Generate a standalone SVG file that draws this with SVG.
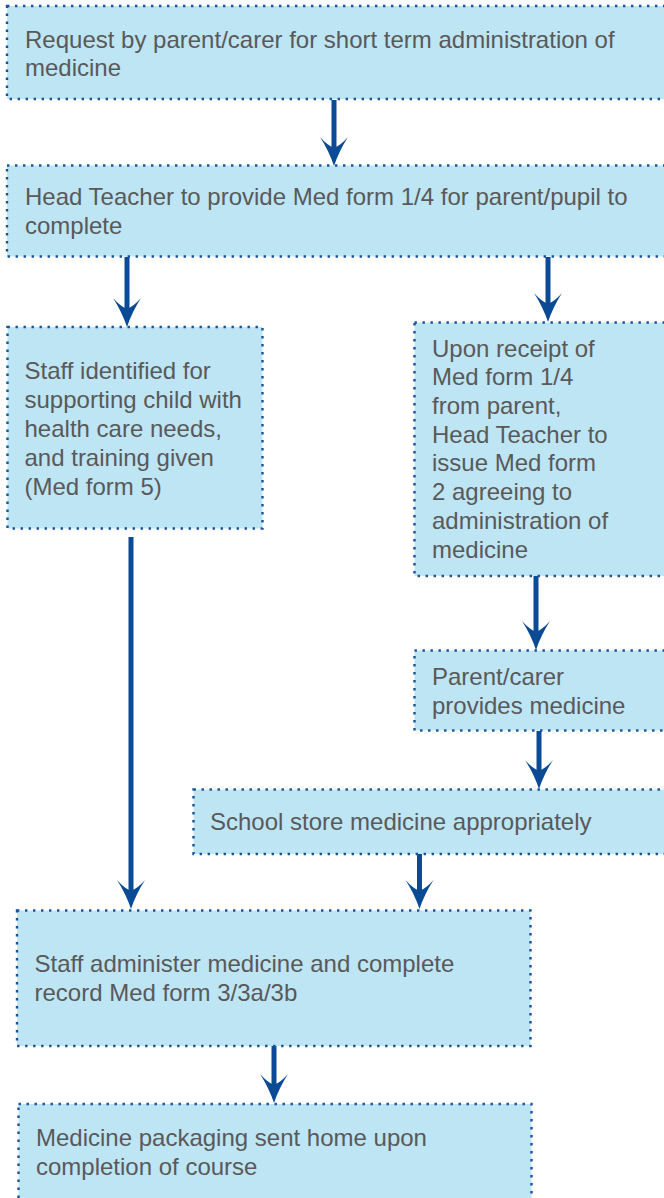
<svg xmlns="http://www.w3.org/2000/svg" width="664" height="1198" viewBox="0 0 664 1198">
  <style>
    .box { fill: #BEE5F4; stroke: #16539F; stroke-width: 2.4; stroke-dasharray: 2.4 5.6; }
    .t { font-family: "Liberation Sans", Arial, sans-serif; font-size: 24px; fill: #595959; }
    .arr { stroke: #0B4A94; stroke-width: 5; fill: none; marker-end: url(#ah); }
  </style>
  <defs>
    <marker id="ah" markerUnits="userSpaceOnUse" markerWidth="30" markerHeight="30" viewBox="0 0 30 30" refX="11" refY="15" orient="auto">
      <path d="M29,15 Q14,10 0,1 Q8,8 11,15 Q8,22 0,29 Q14,20 29,15 Z" fill="#0B4A94"/>
    </marker>
  </defs>
  <rect width="664" height="1198" fill="#FFFFFF"/>

  <g id="connectors">
    <line class="arr" x1="334" y1="100" x2="334" y2="148"/>
    <line class="arr" x1="127" y1="257" x2="127" y2="309"/>
    <line class="arr" x1="548" y1="257" x2="548" y2="304"/>
    <line class="arr" x1="536" y1="576" x2="536" y2="632"/>
    <line class="arr" x1="539" y1="731" x2="539" y2="771"/>
    <line class="arr" x1="419.5" y1="854" x2="419.5" y2="891"/>
    <line class="arr" x1="131" y1="537" x2="131" y2="891"/>
    <line class="arr" x1="274" y1="1046" x2="274" y2="1085"/>
  </g>

  <g id="n1">
    <rect class="box" x="7" y="6" width="680" height="93"/>
    <text class="t" x="25" y="48">Request by parent/carer for short term administration of</text>
    <text class="t" x="25" y="76">medicine</text>
  </g>
  <g id="n2">
    <rect class="box" x="7" y="165.5" width="680" height="91"/>
    <text class="t" x="25" y="205">Head Teacher to provide Med form 1/4 for parent/pupil to</text>
    <text class="t" x="25" y="234">complete</text>
  </g>
  <g id="n3">
    <rect class="box" x="7.5" y="327" width="255" height="201.5"/>
    <text class="t" x="24.5" y="379">Staff identified for</text>
    <text class="t" x="24.5" y="408">supporting child with</text>
    <text class="t" x="24.5" y="437">health care needs,</text>
    <text class="t" x="24.5" y="465.5">and training given</text>
    <text class="t" x="24.5" y="494.5">(Med form 5)</text>
  </g>
  <g id="n4">
    <rect class="box" x="414.5" y="322.5" width="280" height="253.5"/>
    <text class="t" x="432" y="356.5">Upon receipt of</text>
    <text class="t" x="432" y="385">Med form 1/4</text>
    <text class="t" x="432" y="413.5">from parent,</text>
    <text class="t" x="432" y="442.5">Head Teacher to</text>
    <text class="t" x="432" y="471">issue Med form</text>
    <text class="t" x="432" y="500">2 agreeing to</text>
    <text class="t" x="432" y="529">administration of</text>
    <text class="t" x="432" y="557.5">medicine</text>
  </g>
  <g id="n5">
    <rect class="box" x="414.5" y="650.5" width="280" height="80"/>
    <text class="t" x="432" y="685">Parent/carer</text>
    <text class="t" x="432" y="714">provides medicine</text>
  </g>
  <g id="n6">
    <rect class="box" x="193.5" y="789.5" width="500" height="64.5"/>
    <text class="t" x="210" y="830">School store medicine appropriately</text>
  </g>
  <g id="n7">
    <rect class="box" x="17" y="910.5" width="513.5" height="135.5"/>
    <text class="t" x="34.5" y="972">Staff administer medicine and complete</text>
    <text class="t" x="34.5" y="1000.5">record Med form 3/3a/3b</text>
  </g>
  <g id="n8">
    <rect class="box" x="18.5" y="1104" width="513" height="110"/>
    <text class="t" x="36" y="1146">Medicine packaging sent home upon</text>
    <text class="t" x="36" y="1174.5">completion of course</text>
  </g>
</svg>
